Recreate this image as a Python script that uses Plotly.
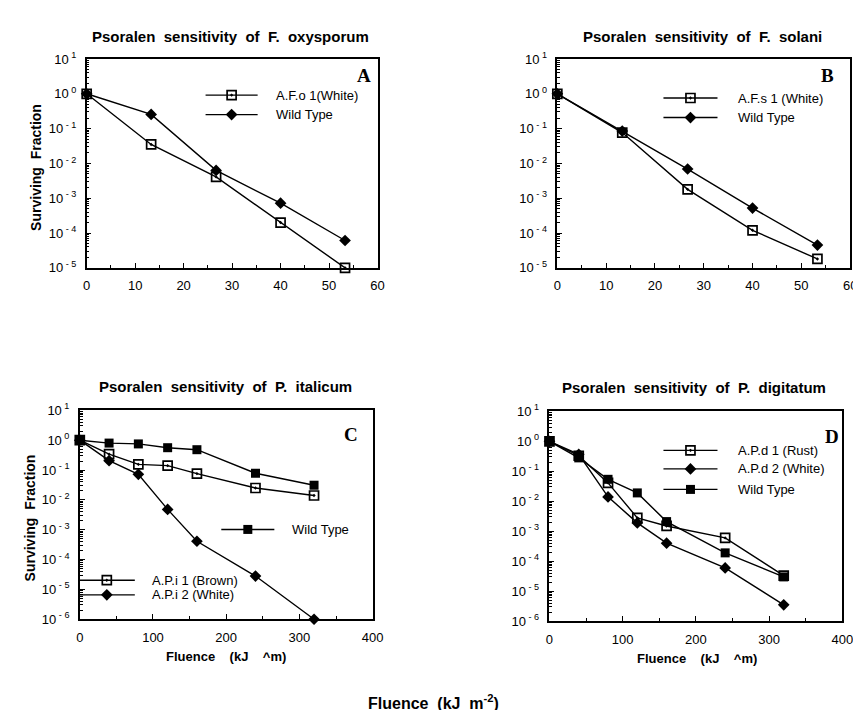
import plotly.graph_objects as go

W, H = 861, 710

# ---------------- data ----------------
# Panel A: F. oxysporum
a_x = [0, 13.3, 26.7, 40, 53.3]
a_white = [1.0, 0.035, 0.0041, 2.0e-4, 1.0e-5]
a_wild = [1.0, 0.255, 0.0063, 7.2e-4, 6.1e-5]
# Panel B: F. solani
b_x = [0, 13.3, 26.7, 40, 53.3]
b_white = [1.0, 0.077, 0.0018, 1.2e-4, 1.8e-5]
b_wild = [1.0, 0.085, 0.0069, 5.2e-4, 4.5e-5]
# Panel C: P. italicum
c_x = [0, 40, 80, 120, 160, 240, 320]
c_brown = [1.0, 0.34, 0.155, 0.14, 0.076, 0.025, 0.014]
c_white = [1.0, 0.206, 0.072, 0.0048, 4.1e-4, 2.8e-5, 1.0e-6]
c_wild = [1.0, 0.80, 0.75, 0.56, 0.48, 0.078, 0.031]
# Panel D: P. digitatum
d_x = [0, 40, 80, 120, 160, 240, 320]
d_rust = [1.0, 0.33, 0.041, 0.0028, 0.0015, 6.0e-4, 3.3e-5]
d_white = [1.0, 0.37, 0.014, 0.0019, 4.0e-4, 6.0e-5, 3.5e-6]
d_wild = [1.0, 0.28, 0.054, 0.019, 0.0021, 1.9e-4, 3.0e-5]

titles = ["Psoralen  sensitivity  of  F.  oxysporum",
          "Psoralen  sensitivity  of  F.  solani",
          "Psoralen  sensitivity  of  P.  italicum",
          "Psoralen  sensitivity  of  P.  digitatum"]
letters = ["A", "B", "C", "D"]

FONT = "Liberation Sans"
SERIF = "Liberation Serif"

def px(x):
    return x / W

def py(y):
    return 1 - y / H

OPEN_SQ = dict(symbol="square-open-dot", size=9, color="black", line=dict(width=1.7, color="black"))
DIAM = dict(symbol="diamond", size=9, color="black")
FSQ = dict(symbol="square", size=9, color="black")
LINE = dict(color="black", width=1.4)

fig = go.Figure()

def add(xv, yv, marker, xa, ya):
    fig.add_trace(go.Scatter(x=xv, y=yv, mode="lines+markers", line=LINE,
                             marker=marker, xaxis=xa, yaxis=ya, showlegend=False,
                             hoverinfo="skip", cliponaxis=False))

add(a_x, a_white, OPEN_SQ, "x", "y")
add(a_x, a_wild, DIAM, "x", "y")
add(b_x, b_white, OPEN_SQ, "x2", "y2")
add(b_x, b_wild, DIAM, "x2", "y2")
add(c_x, c_wild, FSQ, "x3", "y3")
add(c_x, c_brown, OPEN_SQ, "x3", "y3")
add(c_x, c_white, DIAM, "x3", "y3")
add(d_x, d_wild, FSQ, "x4", "y4")
add(d_x, d_rust, OPEN_SQ, "x4", "y4")
add(d_x, d_white, DIAM, "x4", "y4")

# panel boxes in pixels: left, right, top, bottom
boxes = [(76, 372, 43, 257), (555, 853, 43, 257), (69, 367, 403, 617), (547, 845, 404, 619)]
xranges = [[0, 60], [0, 60], [0, 400], [0, 400]]
xdt = [10, 10, 100, 100]
ylo = [-5, -5, -6, -6]

def sup_label(k):
    s = (" - " if k < 0 else " ") + str(abs(k))
    return "10<sup>" + s + "</sup>"

layout = {}
for i, (l, r, t, b) in enumerate(boxes):
    n = "" if i == 0 else str(i + 1)
    exps = list(range(ylo[i], 2))
    minor_vals = [m * 10.0 ** k for k in exps[:-1] for m in range(2, 10)]
    layout["xaxis" + n] = dict(
        domain=[px(l), px(r)], range=xranges[i], anchor="y" + n,
        showline=True, linecolor="black", linewidth=1.5, mirror=True,
        ticks="inside", ticklen=5, tickwidth=1.2, tickcolor="black",
        tickmode="linear", dtick=xdt[i], tick0=0, showgrid=False, zeroline=False,
        minor=dict(ticks="inside", ticklen=3, tickmode="linear", tick0=0, dtick=xdt[i] / 2,
                   tickcolor="black", showgrid=False),
        tickfont=dict(family=FONT, size=13, color="black"), ticklabelstandoff=5,
    )
    layout["yaxis" + n] = dict(
        domain=[py(b), py(t)], type="log", range=[ylo[i], 1], anchor="x" + n,
        showline=True, linecolor="black", linewidth=1.5, mirror=True,
        ticks="inside", ticklen=5, tickwidth=1.2, tickcolor="black",
        tickmode="array", tickvals=[10.0 ** k for k in exps], ticktext=[sup_label(k) for k in exps],
        minor=dict(ticks="inside", ticklen=3, tickmode="array", tickvals=minor_vals,
                   tickcolor="black", showgrid=False),
        showgrid=False, zeroline=False,
        tickfont=dict(family=FONT, size=13, color="black"), ticklabelstandoff=6,
    )

# pixel overlay axes for legend glyphs
layout["xaxis5"] = dict(domain=[0, 1], range=[0, W], visible=False, anchor="y5", fixedrange=True)
layout["yaxis5"] = dict(domain=[0, 1], range=[H, 0], visible=False, anchor="x5", fixedrange=True)

fig.update_layout(**layout)

# legend entries: (label, marker, line x0, x1, y, text x)
legend_items = [
    ("A.F.o 1(White)", OPEN_SQ, 197, 250, 80, 267),
    ("Wild Type", DIAM, 197, 250, 100, 267),
    ("A.F.s 1 (White)", OPEN_SQ, 663, 718, 83, 737),
    ("Wild Type", DIAM, 663, 718, 103, 737),
    ("Wild Type", FSQ, 213, 267, 525, 283),
    ("A.P.i 1 (Brown)", OPEN_SQ, 68, 125, 577, 140),
    ("A.P.i 2 (White)", DIAM, 68, 125, 592, 140),
    ("A.P.d 1 (Rust)", OPEN_SQ, 663, 718, 444, 737),
    ("A.P.d 2 (White)", DIAM, 663, 718, 463, 737),
    ("Wild Type", FSQ, 663, 718, 484, 737),
]
annotations = []
for label, mk, x0, x1, yy, tx in legend_items:
    fig.add_trace(go.Scatter(x=[x0, x1], y=[yy, yy], mode="lines", line=LINE,
                             xaxis="x5", yaxis="y5", showlegend=False, hoverinfo="skip"))
    fig.add_trace(go.Scatter(x=[(x0 + x1) / 2], y=[yy], mode="markers", marker=mk,
                             xaxis="x5", yaxis="y5", showlegend=False, hoverinfo="skip"))
    annotations.append(dict(x=px(tx), y=py(yy), xref="paper", yref="paper", text=label,
                            showarrow=False, xanchor="left", yanchor="middle",
                            font=dict(family=FONT, size=13, color="black")))

# titles
title_pos = [(222, 20), (703, 20), (217, 379), (694, 380)]
for ttl, (tx, ty) in zip(titles, title_pos):
    annotations.append(dict(x=px(tx), y=py(ty), xref="paper", yref="paper", text="<b>" + ttl + "</b>",
                            showarrow=False, xanchor="center", yanchor="middle",
                            font=dict(family=FONT, size=15, color="black")))

# panel letters
letter_pos = [(358, 60), (830, 60), (345, 428), (835, 430)]
for let, (lx, ly) in zip(letters, letter_pos):
    annotations.append(dict(x=px(lx), y=py(ly), xref="paper", yref="paper", text="<b>" + let + "</b>",
                            showarrow=False, xanchor="center", yanchor="middle",
                            font=dict(family=SERIF, size=19, color="black")))

# y axis titles
for (yx, yy) in [(25, 154), (18, 513)]:
    annotations.append(dict(x=px(yx), y=py(yy), xref="paper", yref="paper",
                            text="<b>Surviving  Fraction</b>", textangle=-90,
                            showarrow=False, xanchor="center", yanchor="middle",
                            font=dict(family=FONT, size=14, color="black")))

# x axis titles for C and D
for (xx, xy) in [(218, 655), (697, 657)]:
    annotations.append(dict(x=px(xx), y=py(xy), xref="paper", yref="paper",
                            text="<b>Fluence    (kJ    ^m)</b>",
                            showarrow=False, xanchor="center", yanchor="middle",
                            font=dict(family=FONT, size=13, color="black")))

# overall x title
annotations.append(dict(x=px(429), y=py(702), xref="paper", yref="paper",
                        text="<b>Fluence  (kJ  m<sup>-2</sup>)</b>",
                        showarrow=False, xanchor="center", yanchor="middle",
                        font=dict(family=FONT, size=16, color="black")))

fig.update_layout(width=W, height=H, autosize=False,
                  margin=dict(l=0, r=0, t=0, b=0),
                  paper_bgcolor="white", plot_bgcolor="rgba(0,0,0,0)",
                  annotations=annotations, showlegend=False)

fig.write_html("out.html")
